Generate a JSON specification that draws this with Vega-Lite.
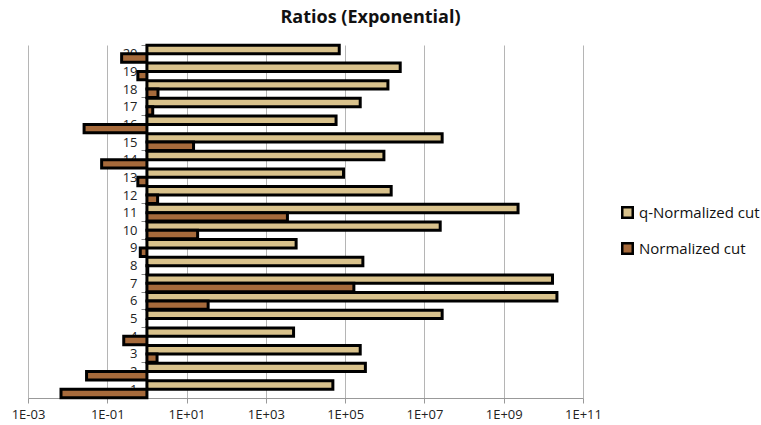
{
  "$schema": "https://vega.github.io/schema/vega-lite/v6.json",
  "width": 555,
  "height": 353,
  "autosize": {"type": "none"},
  "padding": {"left": 28, "top": 45, "right": 178, "bottom": 27},
  "background": "white",
  "title": {"text": "Ratios (Exponential)", "font": "Open Sans", "fontSize": 18, "fontWeight": "bold", "color": "#111111", "anchor": "middle", "dx": 65, "offset": 12},
  "config": {"view": {"stroke": null}, "font": "Open Sans"},
  "data": {"values": [
    {"cat": 1, "series": "q-Normalized cut", "value": 49000},
    {"cat": 2, "series": "q-Normalized cut", "value": 324000},
    {"cat": 3, "series": "q-Normalized cut", "value": 240000},
    {"cat": 4, "series": "q-Normalized cut", "value": 5000},
    {"cat": 5, "series": "q-Normalized cut", "value": 28000000},
    {"cat": 6, "series": "q-Normalized cut", "value": 22000000000},
    {"cat": 7, "series": "q-Normalized cut", "value": 17000000000},
    {"cat": 8, "series": "q-Normalized cut", "value": 280000},
    {"cat": 9, "series": "q-Normalized cut", "value": 5800},
    {"cat": 10, "series": "q-Normalized cut", "value": 25000000},
    {"cat": 11, "series": "q-Normalized cut", "value": 2300000000},
    {"cat": 12, "series": "q-Normalized cut", "value": 1450000},
    {"cat": 13, "series": "q-Normalized cut", "value": 91000},
    {"cat": 14, "series": "q-Normalized cut", "value": 950000},
    {"cat": 15, "series": "q-Normalized cut", "value": 28000000},
    {"cat": 16, "series": "q-Normalized cut", "value": 59000},
    {"cat": 17, "series": "q-Normalized cut", "value": 240000},
    {"cat": 18, "series": "q-Normalized cut", "value": 1200000},
    {"cat": 19, "series": "q-Normalized cut", "value": 2450000},
    {"cat": 20, "series": "q-Normalized cut", "value": 71000},
    {"cat": 1, "series": "Normalized cut", "value": 0.0068},
    {"cat": 2, "series": "Normalized cut", "value": 0.03},
    {"cat": 3, "series": "Normalized cut", "value": 1.8},
    {"cat": 4, "series": "Normalized cut", "value": 0.26},
    {"cat": 5, "series": "Normalized cut", "value": 1.0},
    {"cat": 6, "series": "Normalized cut", "value": 35},
    {"cat": 7, "series": "Normalized cut", "value": 166000},
    {"cat": 8, "series": "Normalized cut", "value": 1.05},
    {"cat": 9, "series": "Normalized cut", "value": 0.68},
    {"cat": 10, "series": "Normalized cut", "value": 19},
    {"cat": 11, "series": "Normalized cut", "value": 3500},
    {"cat": 12, "series": "Normalized cut", "value": 1.86},
    {"cat": 13, "series": "Normalized cut", "value": 0.59},
    {"cat": 14, "series": "Normalized cut", "value": 0.072},
    {"cat": 15, "series": "Normalized cut", "value": 15},
    {"cat": 16, "series": "Normalized cut", "value": 0.026},
    {"cat": 17, "series": "Normalized cut", "value": 1.4},
    {"cat": 18, "series": "Normalized cut", "value": 1.9},
    {"cat": 19, "series": "Normalized cut", "value": 0.59},
    {"cat": 20, "series": "Normalized cut", "value": 0.23}
  ]},
  "mark": {"type": "bar", "stroke": "#000000", "strokeWidth": 3},
  "encoding": {
    "y": {
      "field": "cat", "type": "ordinal", "sort": "descending",
      "scale": {"paddingInner": 0.05, "paddingOuter": 0.02},
      "axis": {"title": null, "offset": -118, "labelAngle": 0, "labelFontSize": 13, "labelColor": "#222222", "labelPadding": 4, "domainColor": "#888888", "tickColor": "#888888", "tickBand": "extent", "tickSize": 5, "grid": false}
    },
    "yOffset": {"field": "series", "type": "nominal", "sort": ["q-Normalized cut", "Normalized cut"]},
    "x": {
      "field": "value", "type": "quantitative",
      "scale": {"type": "log", "domain": [0.001, 100000000000], "nice": false},
      "axis": {"title": null, "values": [0.001, 0.1, 10, 1000, 100000, 10000000, 1000000000, 100000000000],
        "labelExpr": "'1E' + (round(log(datum.value)/LN10) < 0 ? '-' : '+') + (abs(round(log(datum.value)/LN10)) < 10 ? '0' : '') + abs(round(log(datum.value)/LN10))",
        "labelFlush": false, "labelOverlap": false,
        "labelFontSize": 13, "labelColor": "#222222", "grid": true, "gridColor": "#b5b5b5", "domainColor": "#999999", "tickColor": "#999999", "tickSize": 5, "labelPadding": 5}
    },
    "x2": {"datum": 1},
    "color": {
      "field": "series", "type": "nominal",
      "scale": {"domain": ["q-Normalized cut", "Normalized cut"], "range": ["#d9c28c", "#a66a3b"]},
      "legend": {"title": null, "orient": "none", "legendX": 592, "legendY": 160, "labelFontSize": 15, "labelColor": "#111111", "symbolType": "square", "symbolSize": 110, "symbolStrokeColor": "#000000", "symbolStrokeWidth": 2.5, "rowPadding": 15, "labelOffset": 4}
    }
  }
}
